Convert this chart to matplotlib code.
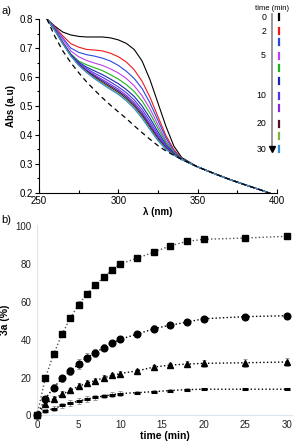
import numpy as np
import matplotlib
matplotlib.use('Agg')
import matplotlib.pyplot as plt
import matplotlib.ticker as ticker
from matplotlib.lines import Line2D

plt.rcParams['font.family'] = ['Liberation Sans', 'DejaVu Sans']

########## a) UV-VIS SPECTRA ##########
wl = [255, 260, 265, 270, 275, 280, 285, 290, 295, 300, 305, 310, 315, 320, 325, 330, 335, 340]
tail_wl = [350, 360, 370, 380, 390, 400]
tail_abs = [0.29, 0.268, 0.247, 0.228, 0.21, 0.19]

spec_black = [0.80, 0.775, 0.755, 0.745, 0.740, 0.738, 0.738, 0.738, 0.735, 0.728, 0.716, 0.695, 0.655, 0.590, 0.510, 0.430, 0.362, 0.322]
spec_red = [0.80, 0.772, 0.742, 0.715, 0.703, 0.695, 0.693, 0.690, 0.682, 0.670, 0.652, 0.625, 0.585, 0.530, 0.463, 0.398, 0.350, 0.318]
spec_blue = [0.80, 0.770, 0.735, 0.700, 0.685, 0.677, 0.672, 0.665, 0.655, 0.640, 0.620, 0.595, 0.560, 0.510, 0.450, 0.390, 0.345, 0.317]
spec_magenta = [0.80, 0.768, 0.730, 0.690, 0.670, 0.657, 0.648, 0.640, 0.628, 0.614, 0.595, 0.570, 0.535, 0.490, 0.435, 0.380, 0.342, 0.317]
spec_green = [0.80, 0.765, 0.720, 0.680, 0.655, 0.642, 0.632, 0.622, 0.608, 0.593, 0.574, 0.550, 0.517, 0.474, 0.423, 0.374, 0.340, 0.318]
spec_navy = [0.80, 0.764, 0.719, 0.678, 0.651, 0.634, 0.621, 0.608, 0.593, 0.577, 0.557, 0.533, 0.500, 0.458, 0.411, 0.367, 0.337, 0.317]
spec_bviolet = [0.80, 0.763, 0.718, 0.677, 0.648, 0.629, 0.613, 0.599, 0.583, 0.566, 0.546, 0.521, 0.488, 0.447, 0.402, 0.362, 0.335, 0.317]
spec_violet = [0.80, 0.762, 0.717, 0.675, 0.645, 0.624, 0.607, 0.591, 0.575, 0.558, 0.537, 0.512, 0.479, 0.438, 0.396, 0.358, 0.334, 0.316]
spec_dblue = [0.80, 0.761, 0.716, 0.675, 0.643, 0.621, 0.603, 0.586, 0.569, 0.552, 0.531, 0.505, 0.472, 0.431, 0.390, 0.355, 0.333, 0.316]
spec_maroon = [0.80, 0.761, 0.716, 0.674, 0.642, 0.619, 0.599, 0.581, 0.564, 0.547, 0.525, 0.499, 0.466, 0.425, 0.386, 0.353, 0.332, 0.315]
spec_olive = [0.80, 0.760, 0.715, 0.673, 0.641, 0.617, 0.596, 0.578, 0.560, 0.543, 0.521, 0.495, 0.461, 0.421, 0.383, 0.352, 0.331, 0.315]
spec_lblue = [0.80, 0.760, 0.715, 0.673, 0.640, 0.615, 0.594, 0.575, 0.557, 0.540, 0.518, 0.491, 0.457, 0.418, 0.380, 0.350, 0.330, 0.315]
spec_dashed = [0.80, 0.740, 0.690, 0.650, 0.615, 0.583, 0.555, 0.528, 0.503, 0.480, 0.457, 0.432, 0.408, 0.385, 0.363, 0.345, 0.330, 0.316]

spectra = [spec_black, spec_red, spec_blue, spec_magenta, spec_green, spec_navy,
           spec_bviolet, spec_violet, spec_dblue, spec_maroon, spec_olive, spec_lblue]
spec_colors = ['#000000', '#f01818', '#2848e0', '#c040e8', '#20b020', '#1828a8',
               '#4838e8', '#8828e0', '#202090', '#501020', '#88b040', '#3090e0']
legend_labels = ['0', '2', '', '5', '', '', '10', '', '20', '', '30']

########## b) KINETICS ##########
time = [0, 1, 2, 3, 4, 5, 6, 7, 8, 9, 10, 12, 14, 16, 18, 20, 25, 30]
sq = [0, 19.9, 32.5, 43.0, 51.6, 58.7, 64.4, 69.0, 73.2, 77.0, 80.2, 83.2, 86.4, 89.8, 92.1, 93.2, 93.9, 94.8]
sq_err = [0, 1.2, 1.5, 1.5, 1.5, 1.8, 1.5, 1.5, 1.5, 1.5, 1.2, 1.2, 1.5, 1.2, 1.0, 1.0, 1.0, 1.0]
ci = [0, 8.9, 14.8, 19.6, 23.6, 27.2, 30.6, 33.2, 35.9, 38.2, 40.4, 43.0, 45.9, 47.8, 49.4, 51.2, 52.3, 52.8]
ci_err = [0, 1.5, 1.8, 1.8, 2.0, 2.5, 2.2, 2.0, 1.8, 1.5, 1.5, 1.5, 1.8, 1.5, 1.2, 1.2, 1.5, 1.5]
tri = [0, 5.9, 8.9, 11.2, 13.3, 15.5, 17.1, 18.5, 19.9, 21.2, 22.2, 23.6, 25.6, 26.7, 27.2, 27.6, 27.9, 28.3]
tri_err = [0, 1.5, 1.5, 1.5, 1.2, 1.5, 1.5, 1.5, 1.5, 1.2, 1.2, 1.2, 1.2, 1.2, 1.5, 2.0, 2.0, 2.0]
dash = [0, 2.5, 3.6, 5.3, 6.6, 7.6, 8.7, 9.6, 10.3, 11.0, 11.6, 12.1, 12.6, 13.2, 13.7, 13.9, 13.9, 13.9]
dash_err = [0, 1.0, 1.2, 1.5, 1.5, 1.5, 1.5, 1.5, 1.2, 1.2, 1.2, 0.8, 0.8, 0.8, 0.8, 0.5, 0.5, 0.5]

font = 7
fig = plt.figure(figsize=(2.97, 4.45), dpi=100)

# ---- panel a ----
ax1 = fig.add_axes([0.1313, 0.5663, 0.8013, 0.391])
x_all = wl + tail_wl
for spec, col in zip(spectra, spec_colors):
    ax1.plot(x_all, spec + tail_abs, color=col, lw=0.8)
ax1.plot(x_all, spec_dashed + tail_abs, color='k', lw=0.9, ls=(0, (4, 3)))

ax1.set_xlim(250, 400); ax1.set_ylim(0.2, 0.8)
ax1.spines['top'].set_visible(False); ax1.spines['right'].set_visible(False)
ax1.xaxis.set_major_locator(ticker.MultipleLocator(50))
ax1.xaxis.set_minor_locator(ticker.MultipleLocator(25))
ax1.yaxis.set_major_locator(ticker.MultipleLocator(0.1))
ax1.yaxis.set_minor_locator(ticker.MultipleLocator(0.05))
ax1.yaxis.set_major_formatter(ticker.FormatStrFormatter('%.1f'))
ax1.tick_params(axis='x', direction='in', length=3, width=0.8, which='major', labelsize=font, pad=2)
ax1.tick_params(axis='x', direction='in', length=2, width=0.8, which='minor')
ax1.tick_params(axis='y', direction='out', length=3, width=0.8, which='major', labelsize=font, pad=1.5)
ax1.tick_params(axis='y', direction='out', length=1.5, width=0.8, which='minor')
ax1.set_xlabel('λ (nm)', fontsize=font, fontweight='bold', labelpad=1)
ax1.set_ylabel('Abs (a.u)', fontsize=font, fontweight='bold', labelpad=2)

# legend with time arrow
fig.text(0.915, 0.988, 'time (min)', fontsize=5.5, ha='center', va='top')
y_items = [17, 31, 42, 56, 68, 81, 96, 108, 124, 136, 149]
leg_cols = ['#000000', '#f01818', '#2848e0', '#c040e8', '#20b020', '#1828a8',
            '#4838e8', '#8828e0', '#501020', '#88b040', '#3090e0']
for yp, col, lab in zip(y_items, leg_cols, legend_labels):
    yf = 1 - yp / 445
    fig.add_artist(Line2D([279 / 297, 279 / 297], [yf - 0.0075, yf + 0.0075], color=col, lw=1.6))
    if lab:
        fig.text(266 / 297, yf, lab, fontsize=6.3, ha='right', va='center')
fig.add_artist(Line2D([272 / 297, 272 / 297], [1 - 14 / 445, 1 - 146 / 445], color='#888888', lw=1.2))
fig.add_artist(Line2D([272 / 297], [1 - 149 / 445], marker='v', color='k', markersize=4, lw=0))

# ---- panel b ----
ax2 = fig.add_axes([0.1246, 0.0663, 0.8586, 0.429])
series = [(sq, sq_err, 's', '#555555'), (ci, ci_err, 'o', 'k'), (tri, tri_err, '^', 'k')]
for yv, ye, mk, lc in series:
    ax2.errorbar(time, yv, yerr=ye, fmt='none', ecolor='#999999', elinewidth=0.7, capsize=1.5, capthick=0.7, zorder=2)
    ax2.plot(time, yv, ls=':', color=lc, lw=1.0, zorder=3)
    ax2.plot(time, yv, ls='none', marker=mk, color='k', markersize=4.8, zorder=4, clip_on=False)
ax2.errorbar(time, dash, yerr=dash_err, fmt='none', ecolor='#999999', elinewidth=0.7, capsize=1.5, capthick=0.7, zorder=2)
ax2.plot(time, dash, ls=':', color='k', lw=1.0, zorder=3)
ax2.plot(time, dash, ls='none', marker='_', color='k', markersize=5, markeredgewidth=2.2, zorder=4)

ax2.set_xlim(0, 30.6); ax2.set_ylim(0, 101)
for s in ['top', 'right']:
    ax2.spines[s].set_visible(False)
for s in ['left', 'bottom']:
    ax2.spines[s].set_color('#dde6ee'); ax2.spines[s].set_linewidth(0.8)
ax2.xaxis.set_major_locator(ticker.MultipleLocator(5))
ax2.yaxis.set_major_locator(ticker.MultipleLocator(20))
ax2.tick_params(axis='both', length=0, labelsize=font, labelcolor='#222222')
ax2.tick_params(axis='x', pad=3)
ax2.tick_params(axis='y', pad=4)
ax2.set_xlabel('time (min)', fontsize=font + 0.5, fontweight='bold', labelpad=1)
ax2.set_ylabel('3a (%)', fontsize=font + 0.5, fontweight='bold', labelpad=4)

fig.text(0.005, 0.975, 'a)', fontsize=8, ha='left', va='center')
fig.text(0.005, 0.505, 'b)', fontsize=8, ha='left', va='center')

plt.savefig('out.png', dpi=100)
